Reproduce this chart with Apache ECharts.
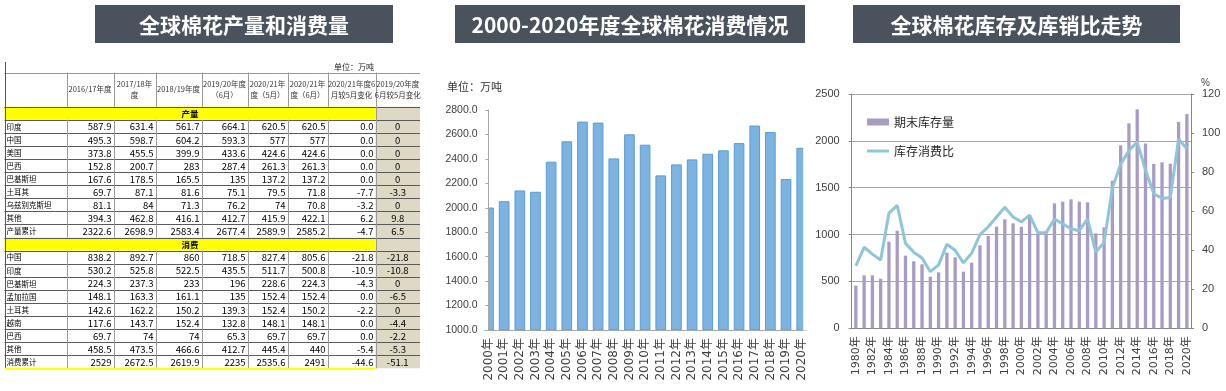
<!DOCTYPE html>
<html><head><meta charset="utf-8">
<script src="https://cdn.jsdelivr.net/npm/echarts@6/dist/echarts.min.js"></script>
<style>html,body{margin:0;padding:0;background:#fff}#c{width:1226px;height:391px}</style>
</head><body><div id="c"></div>
<script>
// ---------- data ----------
const titles = ['全球棉花产量和消费量', '2000-2020年度全球棉花消费情况', '全球棉花库存及库销比走势'];
const unitText = '单位：万吨';
const tableHeaders = ['', '2016/17年度', '2017/18年\n度', '2018/19年度', '2019/20年度\n（6月）', '2020/21年\n度（5月）', '2020/21年\n度（6月）', '2020/21年度6\n月较5月变化', '2019/20年度\n6月较5月变化'];
const prodTitle = '产量';
const prodNames = ['印度', '中国', '美国', '巴西', '巴基斯坦', '土耳其', '乌兹别克斯坦', '其他', '产量累计'];
const prodValues = [
  ['587.9', '631.4', '561.7', '664.1', '620.5', '620.5', '0.0', '0'],
  ['495.3', '598.7', '604.2', '593.3', '577', '577', '0.0', '0'],
  ['373.8', '455.5', '399.9', '433.6', '424.6', '424.6', '0.0', '0'],
  ['152.8', '200.7', '283', '287.4', '261.3', '261.3', '0.0', '0'],
  ['167.6', '178.5', '165.5', '135', '137.2', '137.2', '0.0', '0'],
  ['69.7', '87.1', '81.6', '75.1', '79.5', '71.8', '-7.7', '-3.3'],
  ['81.1', '84', '71.3', '76.2', '74', '70.8', '-3.2', '0'],
  ['394.3', '462.8', '416.1', '412.7', '415.9', '422.1', '6.2', '9.8'],
  ['2322.6', '2698.9', '2583.4', '2677.4', '2589.9', '2585.2', '-4.7', '6.5']
];
const consTitle = '消费';
const consNames = ['中国', '印度', '巴基斯坦', '孟加拉国', '土耳其', '越南', '巴西', '其他', '消费累计'];
const consTableValues = [
  ['838.2', '892.7', '860', '718.5', '827.4', '805.6', '-21.8', '-21.8'],
  ['530.2', '525.8', '522.5', '435.5', '511.7', '500.8', '-10.9', '-10.8'],
  ['224.3', '237.3', '233', '196', '228.6', '224.3', '-4.3', '0'],
  ['148.1', '163.3', '161.1', '135', '152.4', '152.4', '0.0', '-6.5'],
  ['142.6', '162.2', '150.2', '139.3', '152.4', '150.2', '-2.2', '0'],
  ['117.6', '143.7', '152.4', '132.8', '148.1', '148.1', '0.0', '-4.4'],
  ['69.7', '74', '74', '65.3', '69.7', '69.7', '0.0', '-2.2'],
  ['458.5', '473.5', '466.6', '412.7', '445.4', '440', '-5.4', '-5.3'],
  ['2529', '2672.5', '2619.9', '2235', '2535.6', '2491', '-44.6', '-51.1']
];

const consYears = ['2000年', '2001年', '2002年', '2003年', '2004年', '2005年', '2006年', '2007年', '2008年', '2009年', '2010年', '2011年', '2012年', '2013年', '2014年', '2015年', '2016年', '2017年', '2018年', '2019年', '2020年'];
const consValues = [2002, 2054, 2142, 2131, 2377, 2544, 2705, 2697, 2404, 2601, 2516, 2265, 2355, 2396, 2442, 2470, 2529, 2672.5, 2619.9, 2235, 2491];

const stockYears = ['1980年', '1981年', '1982年', '1983年', '1984年', '1985年', '1986年', '1987年', '1988年', '1989年', '1990年', '1991年', '1992年', '1993年', '1994年', '1995年', '1996年', '1997年', '1998年', '1999年', '2000年', '2001年', '2002年', '2003年', '2004年', '2005年', '2006年', '2007年', '2008年', '2009年', '2010年', '2011年', '2012年', '2013年', '2014年', '2015年', '2016年', '2017年', '2018年', '2019年', '2020年'];
const stockValues = [455, 565, 565, 529, 924, 1041, 775, 715, 683, 551, 597, 807, 757, 604, 700, 885, 985, 1084, 1163, 1120, 1084, 1202, 1013, 1013, 1333, 1351, 1376, 1351, 1344, 1013, 1077, 1575, 1952, 2187, 2336, 1973, 1753, 1771, 1756, 2201, 2286];
const ratioValues = [32, 41.5, 38, 35, 59, 63, 43.5, 39, 36, 29, 32.5, 43, 40, 33.5, 38.5, 48, 52, 57, 62, 57, 54.5, 58, 49, 49, 56, 53.5, 51, 50, 56, 39, 44, 72, 84, 91, 95.5, 81, 69, 66.5, 67, 97, 92];
const stockName = '期末库存量';
const ratioName = '库存消费比';

// ---------- layout ----------
const titleBoxes = [[95, 5, 298, 38], [455, 5, 350, 38], [853, 5, 327, 38]];
const colX = [4.5, 66.5, 113.5, 155.5, 201.5, 247.5, 287.5, 327.5, 375.5, 420];
const headTop = 72.5, rowTop = 106.7, rowH = 13.08;
const hLine = '#5a5a5a', vLine = '#9a9a9a';
const tFont = '"Liberation Sans Narrow", "Noto Sans CJK SC", sans-serif';
const cFont = '"Noto Sans CJK SC", sans-serif';

const g = [];
// title boxes
titles.forEach((t, i) => {
  const b = titleBoxes[i];
  g.push({type: 'rect', shape: {x: b[0], y: b[1], width: b[2], height: b[3]}, style: {fill: '#4a525e'}, silent: true});
  g.push({type: 'text', style: {text: t, x: b[0] + b[2] / 2, y: b[1] + b[3] / 2 + 1, align: 'center', verticalAlign: 'middle', textAlign: 'center', textVerticalAlign: 'middle', fill: '#ffffff', font: 'bold 21px "Noto Sans CJK SC", sans-serif'}, silent: true});
});

// table
const rows = [];
rows.push({section: prodTitle});
prodNames.forEach((n, i) => rows.push({name: n, vals: prodValues[i]}));
rows.push({section: consTitle});
consNames.forEach((n, i) => rows.push({name: n, vals: consTableValues[i]}));
const tableBottom = rowTop + rows.length * rowH;
const py = v => Math.round(v) + 0.5;

g.push({type: 'rect', shape: {x: colX[8], y: rowTop, width: colX[9] - colX[8], height: tableBottom - rowTop}, style: {fill: '#ddd9c4'}, silent: true});
rows.forEach((r, k) => {
  const y0 = rowTop + k * rowH;
  if (r.section) {
    g.push({type: 'rect', shape: {x: colX[0], y: y0, width: colX[8] - colX[0], height: rowH}, style: {fill: '#ffff00'}, silent: true});
  }
});
g.push({type: 'line', shape: {x1: colX[0], y1: py(headTop), x2: colX[9], y2: py(headTop)}, style: {stroke: vLine, lineWidth: 1}, silent: true});
for (let k = 0; k < rows.length; k++) {
  const y = py(rowTop + k * rowH);
  g.push({type: 'line', shape: {x1: colX[0], y1: y, x2: colX[9], y2: y}, style: {stroke: hLine, lineWidth: 1}, silent: true});
}
for (let c = 1; c < 9; c++) {
  g.push({type: 'line', shape: {x1: py(colX[c]), y1: headTop, x2: py(colX[c]), y2: rowTop}, style: {stroke: vLine, lineWidth: 1}, silent: true});
}
rows.forEach((r, k) => {
  const y0 = rowTop + k * rowH;
  for (let c = 1; c < 9; c++) {
    if (r.section && c !== 8) continue;
    g.push({type: 'line', shape: {x1: py(colX[c]), y1: y0, x2: py(colX[c]), y2: y0 + rowH}, style: {stroke: vLine, lineWidth: 1}, silent: true});
  }
});
g.push({type: 'line', shape: {x1: py(colX[0]), y1: 62, x2: py(colX[0]), y2: tableBottom}, style: {stroke: '#555', lineWidth: 1}, silent: true});
g.push({type: 'line', shape: {x1: colX[0], y1: tableBottom + 0.5, x2: colX[8], y2: tableBottom + 0.5}, style: {stroke: '#ffff00', lineWidth: 2}, silent: true});

// table texts
g.push({type: 'text', style: {text: unitText, x: 374, y: 67, align: 'right', verticalAlign: 'middle', textAlign: 'right', textVerticalAlign: 'middle', fill: '#222', font: '8px ' + cFont}, silent: true});
tableHeaders.forEach((h, c) => {
  if (!h) return;
  g.push({type: 'text', style: {text: h, x: (colX[c] + colX[c + 1]) / 2, y: (headTop + rowTop) / 2, align: 'center', verticalAlign: 'middle', textAlign: 'center', textVerticalAlign: 'middle', fill: '#333', font: '7.5px ' + tFont, lineHeight: 11}, silent: true});
});
rows.forEach((r, k) => {
  const yc = rowTop + k * rowH + rowH / 2 + 0.5;
  if (r.section) {
    g.push({type: 'text', style: {text: r.section, x: (colX[0] + colX[8]) / 2, y: yc, align: 'center', verticalAlign: 'middle', textAlign: 'center', textVerticalAlign: 'middle', fill: '#000', font: 'bold 8.5px ' + cFont}, silent: true});
    return;
  }
  g.push({type: 'text', style: {text: r.name, x: colX[0] + 2, y: yc, align: 'left', verticalAlign: 'middle', textAlign: 'left', textVerticalAlign: 'middle', fill: '#000', font: '7.5px ' + cFont}, silent: true});
  r.vals.forEach((v, j) => {
    const c = j + 1;
    const center = c === 8;
    g.push({type: 'text', style: {text: v, x: center ? (colX[c] + colX[c + 1]) / 2 : colX[c + 1] - 2, y: yc, align: center ? 'center' : 'right', verticalAlign: 'middle', textAlign: center ? 'center' : 'right', textVerticalAlign: 'middle', fill: '#000', font: '9.5px ' + tFont}, silent: true});
  });
});
// unit text for middle chart
g.push({type: 'text', style: {text: unitText, x: 447, y: 87, align: 'left', verticalAlign: 'middle', textAlign: 'left', textVerticalAlign: 'middle', fill: '#333', font: '11px ' + cFont}, silent: true});

// masks hiding the bar halves that fall outside the middle plot area
const midGrid = {left: 488.5, top: 110, width: 313.2, height: 220};
g.push({type: 'rect', z: 50, shape: {x: midGrid.left - 12, y: midGrid.top - 5, width: 12, height: midGrid.height + 5}, style: {fill: '#fff'}, silent: true});
g.push({type: 'rect', z: 50, shape: {x: midGrid.left + midGrid.width + 1.5, y: midGrid.top - 5, width: 6, height: midGrid.height + 5}, style: {fill: '#fff'}, silent: true});

const axisGray = '#a6a6a6';
const labelColor = '#404040';

const option = {
  animation: false,
  backgroundColor: '#fff',
  graphic: {elements: g},
  legend: {
    left: 862, top: 111, orient: 'vertical', itemWidth: 22, itemHeight: 7, itemGap: 17,
    textStyle: {fontSize: 12, color: '#262626', fontFamily: cFont},
    data: [{name: stockName, icon: 'rect'}, {name: ratioName, icon: 'path://M0,0H22V3H0Z'}]
  },
  grid: [
    midGrid,
    {left: 851.7, top: 94, width: 339.3, height: 234.3}
  ],
  xAxis: [
    {type: 'category', gridIndex: 0, data: consYears, boundaryGap: false, z: 60,
      axisLine: {lineStyle: {color: axisGray}}, axisTick: {show: false},
      axisLabel: {rotate: 90, interval: 0, margin: 8, fontSize: 12, color: labelColor, fontFamily: '"DejaVu Sans", "Noto Sans CJK SC", sans-serif'}},
    {type: 'category', gridIndex: 1, data: stockYears, boundaryGap: true,
      axisLine: {lineStyle: {color: '#868686'}}, axisTick: {interval: 0, length: 3, lineStyle: {color: '#868686'}},
      axisLabel: {rotate: 90, interval: 1, margin: 8, fontSize: 11, color: labelColor, fontFamily: '"DejaVu Sans", "Noto Sans CJK SC", sans-serif'}}
  ],
  yAxis: [
    {type: 'value', gridIndex: 0, min: 1000, max: 2800, interval: 200, z: 60,
      axisLine: {show: true, lineStyle: {color: axisGray}}, axisTick: {show: true, length: 3, lineStyle: {color: axisGray}},
      splitLine: {show: false},
      axisLabel: {formatter: v => v.toFixed(1), margin: 11, fontSize: 10.5, color: labelColor, fontFamily: '"Liberation Sans", sans-serif'}},
    {type: 'value', gridIndex: 1, min: 0, max: 2500, interval: 500,
      axisLine: {show: true, lineStyle: {color: '#868686'}}, axisTick: {show: true, length: 3, lineStyle: {color: '#868686'}},
      splitLine: {show: true, lineStyle: {color: '#a6a6a6'}},
      axisLabel: {formatter: v => String(v), margin: 12, fontSize: 11, color: labelColor, fontFamily: '"Liberation Sans", sans-serif'}},
    {type: 'value', gridIndex: 1, position: 'right', min: 0, max: 120, interval: 20,
      name: '%', nameLocation: 'end', nameGap: 6,
      nameTextStyle: {fontSize: 10, color: labelColor, align: 'left', padding: [0, 0, 0, 10]},
      axisLine: {show: true, lineStyle: {color: '#868686'}}, axisTick: {show: true, length: 3, lineStyle: {color: '#868686'}},
      splitLine: {show: false},
      axisLabel: {formatter: v => String(v), margin: 11, fontSize: 11, color: labelColor, fontFamily: '"Liberation Sans", sans-serif'}}
  ],
  series: [
    {type: 'bar', xAxisIndex: 0, yAxisIndex: 0, data: consValues, barWidth: '68%',
      itemStyle: {color: '#7db3e0', borderColor: '#5b9bd5', borderWidth: 1}},
    {type: 'bar', name: stockName, xAxisIndex: 1, yAxisIndex: 1, data: stockValues, barWidth: '40%',
      itemStyle: {color: '#a99cc4'}},
    {type: 'line', name: ratioName, xAxisIndex: 1, yAxisIndex: 2, data: ratioValues, symbol: 'none',
      lineStyle: {width: 3, color: '#8ec5d8'}, itemStyle: {color: '#8ec5d8'}}
  ]
};
const chart = echarts.init(document.getElementById('c'), null, {renderer: 'canvas'});
chart.setOption(option);
</script>
</body></html>
